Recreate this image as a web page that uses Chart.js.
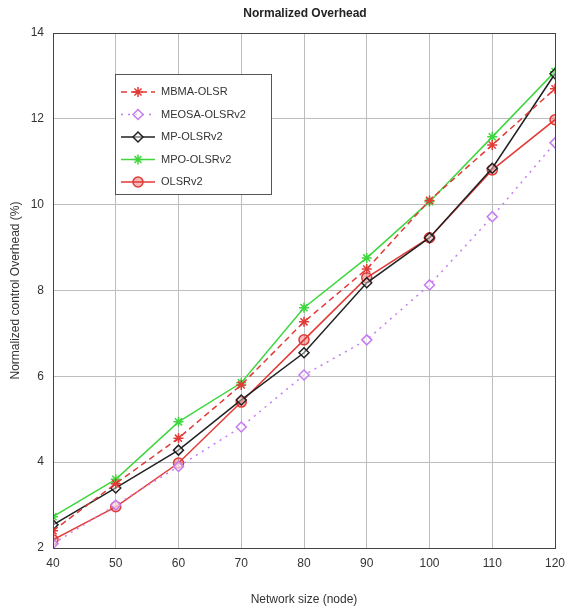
<!DOCTYPE html>
<html>
<head>
<meta charset="utf-8">
<script src="https://cdn.jsdelivr.net/npm/chart.js@4/dist/chart.umd.min.js"></script>
<style>
	html, body { margin: 0; padding: 0; background: #fff; }
	#wrap { width: 569px; height: 611px; }
</style>
</head>
<body>
<div id="wrap"><canvas id="overhead" width="569" height="611"></canvas></div>
<script>
// network sizes (nodes)
var nodes = [40, 50, 60, 70, 80, 90, 100, 110, 120];

// normalized control overhead (%) per protocol
var mbmaOlsr = [2.4, 3.5, 4.56, 5.8, 7.27, 8.5, 10.1, 11.39, 12.7];
var meosaOlsrv2 = [2.1, 3.0, 3.9, 4.82, 6.03, 6.85, 8.13, 9.72, 11.44];
var mpOlsrv2 = [2.54, 3.4, 4.28, 5.45, 6.55, 8.18, 9.23, 10.85, 13.05];
var mpoOlsrv2 = [2.73, 3.6, 4.94, 5.85, 7.6, 8.76, 10.07, 11.58, 13.1];
var olsrv2 = [2.19, 2.96, 3.98, 5.4, 6.85, 8.3, 9.23, 10.81, 11.98];

var seriesNames = ['MBMA-OLSR', 'MEOSA-OLSRv2', 'MP-OLSRv2', 'MPO-OLSRv2', 'OLSRv2'];

function pts(vals) {
	return vals.map(function (v, i) { return { x: nodes[i], y: v }; });
}

var font = "'Liberation Sans', Arial, sans-serif";

// draws the box, the title and the legend (inside the plot like in matlab)
var matlabBox = {
	id: 'matlabBox',
	afterDraw: function (chart) {
		var ctx = chart.ctx;
		var a = chart.chartArea;
		ctx.save();
		ctx.strokeStyle = '#444';
		ctx.lineWidth = 1;
		ctx.strokeRect(a.left + 0.5, a.top + 0.5, a.right - a.left, a.bottom - a.top);

		ctx.fillStyle = '#222';
		ctx.font = 'bold 12px ' + font;
		ctx.textAlign = 'center';
		ctx.textBaseline = 'middle';
		ctx.fillText('Normalized Overhead', 305, 14);

		// legend
		var lx = 115, ly = 74, lw = 156, lh = 120;
		ctx.fillStyle = '#fff';
		ctx.fillRect(lx, ly, lw, lh);
		ctx.strokeStyle = '#555';
		ctx.strokeRect(lx + 0.5, ly + 0.5, lw, lh);
		ctx.font = '11px ' + font;
		ctx.textAlign = 'left';
		chart.data.datasets.forEach(function (ds, i) {
			var y = ly + 18 + i * 22.5;
			ctx.strokeStyle = ds.borderColor;
			ctx.lineWidth = ds.borderWidth;
			ctx.setLineDash(ds.borderDash || []);
			ctx.beginPath();
			ctx.moveTo(lx + 6, y);
			ctx.lineTo(lx + 40, y);
			ctx.stroke();
			ctx.setLineDash([]);
			ctx.fillStyle = ds.pointBackgroundColor;
			ctx.strokeStyle = ds.pointBorderColor;
			Chart.helpers.drawPoint(ctx, {
				pointStyle: ds.pointStyle,
				radius: ds.pointRadius,
				borderWidth: ds.pointBorderWidth || 1
			}, lx + 23, y);
			ctx.fillStyle = '#333';
			ctx.fillText(ds.label, lx + 46, y);
		});
		ctx.restore();
	}
};

function mkSet(label, vals, color, style, dash, fill) {
	return {
		label: label,
		data: pts(vals),
		borderColor: color,
		backgroundColor: fill,
		pointBorderColor: color,
		pointBackgroundColor: fill,
		borderWidth: 1.5,
		borderDash: dash,
		pointStyle: style,
		pointRadius: 5,
		pointBorderWidth: 1.5,
		tension: 0
	};
}

var cfg = {
	type: 'line',
	data: {
		datasets: [
			mkSet(seriesNames[0], mbmaOlsr, '#e23a36', 'star', [6, 4], 'rgba(226,58,54,0.5)'),
			mkSet(seriesNames[1], meosaOlsrv2, '#c57cf0', 'rectRot', [2, 5], 'rgba(255,255,255,0.6)'),
			mkSet(seriesNames[2], mpOlsrv2, '#222222', 'rectRot', [], 'rgba(255,255,255,0.4)'),
			mkSet(seriesNames[3], mpoOlsrv2, '#3fd63f', 'star', [], 'rgba(63,214,63,0.5)'),
			mkSet(seriesNames[4], olsrv2, '#e23a36', 'circle', [], 'rgba(226,58,54,0.35)')
		]
	},
	options: {
		responsive: false,
		animation: false,
		layout: { padding: { top: 33, right: 14, left: 0, bottom: 0 } },
		plugins: {
			legend: { display: false },
			title: { display: false },
			tooltip: { enabled: false }
		},
		scales: {
			x: {
				type: 'linear',
				min: 40,
				max: 120,
				ticks: { stepSize: 10, color: '#333', font: { family: font, size: 12 }, padding: 8 },
				grid: { color: '#bdbdbd', drawTicks: false },
				border: { color: '#444' },
				title: { display: true, text: 'Network size (node)', color: '#333', font: { family: font, size: 12 }, padding: { top: 4 } },
				afterFit: function (s) { s.height = 63; s.paddingRight = 0; s.paddingLeft = 0; }
			},
			y: {
				min: 2,
				max: 14,
				ticks: { stepSize: 2, color: '#333', font: { family: font, size: 12 }, padding: 9 },
				grid: { color: '#bdbdbd', drawTicks: false },
				border: { color: '#444' },
				title: { display: true, text: 'Normalized control Overhead (%)', color: '#333', font: { family: font, size: 12 }, padding: { top: 8, bottom: 0 } },
				afterFit: function (s) { s.width = 53; }
			}
		}
	},
	plugins: [matlabBox]
};

var myChart = new Chart(document.getElementById('overhead'), cfg);
</script>
</body>
</html>
